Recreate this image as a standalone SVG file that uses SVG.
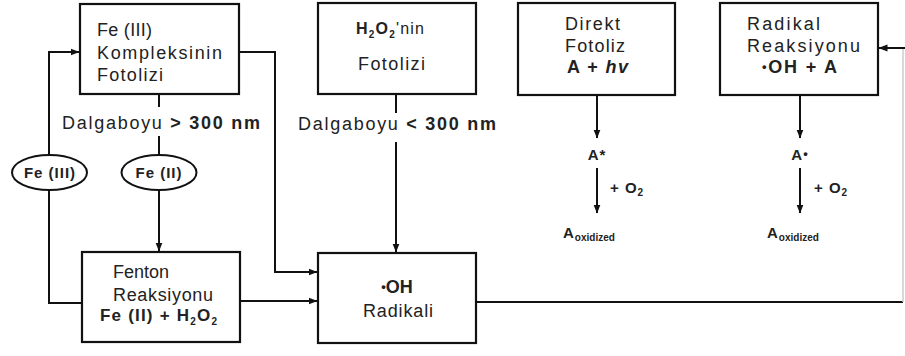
<svg xmlns="http://www.w3.org/2000/svg" width="905" height="356" viewBox="0 0 905 356">
<defs>
<marker id="ah" markerWidth="9" markerHeight="8" refX="8.5" refY="4" orient="auto" markerUnits="userSpaceOnUse"><path d="M0,0.5 L9,4 L0,7.5 z" fill="#111"/></marker>
</defs>
<style>
.box{fill:#fff;stroke:#111;stroke-width:2.2}
.ell{fill:#fff;stroke:#111;stroke-width:2}
.ln{fill:none;stroke:#111;stroke-width:2}
text{font-family:"Liberation Sans",Arial,sans-serif;fill:#222}
.t{font-size:18px}
.s{font-size:15px;font-weight:bold;letter-spacing:1px}
.b{font-weight:bold}
.sub{font-size:10px}
.m{text-anchor:middle}
.dot{font-size:13px}
</style>
<rect width="905" height="356" fill="#fff"/>
<g id="connectors">
<path class="ln" d="M159,94 V107"/>
<path class="ln" d="M159,136 V155"/>
<path class="ln" d="M159,190 V251" marker-end="url(#ah)"/>
<path class="ln" d="M49,155 V52 H79" marker-end="url(#ah)"/>
<path class="ln" d="M49,190 V303 H82"/>
<path class="ln" d="M239,52 H275 V272 H317" marker-end="url(#ah)"/>
<path class="ln" d="M240,301 H317" marker-end="url(#ah)"/>
<path class="ln" d="M396,94 V113"/>
<path class="ln" d="M396,142 V252" marker-end="url(#ah)"/>
<path class="ln" d="M476,302 H903"/>
<path fill="none" stroke="#ccc" stroke-width="1.5" d="M903,302 V48"/>
<path class="ln" d="M905,48 H879" marker-end="url(#ah)"/>
<path class="ln" d="M597,95 V138" marker-end="url(#ah)"/>
<path class="ln" d="M597,168 V213" marker-end="url(#ah)"/>
<path class="ln" d="M800,95 V138" marker-end="url(#ah)"/>
<path class="ln" d="M800,168 V213" marker-end="url(#ah)"/>
</g>
<g id="fe3-kompleks">
<rect class="box" x="80" y="4" width="159" height="90"/>
<text class="t" x="97" y="36" textLength="55" lengthAdjust="spacing">Fe (III)</text>
<text class="t" x="97" y="59" textLength="125" lengthAdjust="spacing">Kompleksinin</text>
<text class="t" x="97" y="81" textLength="66" lengthAdjust="spacing">Fotolizi</text>
</g>
<g id="label-gt300">
<text class="t" x="62" y="129" textLength="198" lengthAdjust="spacing">Dalgaboyu <tspan class="b">&gt; 300 nm</tspan></text>
</g>
<g id="h2o2-fotoliz">
<rect class="box" x="318" y="3" width="158" height="91"/>
<text x="356" y="34" font-size="16" class="b" letter-spacing="1.2">H<tspan class="sub" dy="4">2</tspan><tspan dy="-4">O</tspan><tspan class="sub" dy="4">2</tspan><tspan dy="-4" font-weight="normal">'nin</tspan></text>
<text class="t" x="358" y="70" textLength="67" lengthAdjust="spacing">Fotolizi</text>
</g>
<g id="label-lt300">
<text class="t" x="298" y="130" textLength="198" lengthAdjust="spacing">Dalgaboyu <tspan class="b">&lt; 300 nm</tspan></text>
</g>
<g id="direkt-fotoliz">
<rect class="box" x="518" y="3" width="157" height="92"/>
<text class="t" x="565" y="30" textLength="55" lengthAdjust="spacing">Direkt</text>
<text class="t" x="565" y="52" textLength="60" lengthAdjust="spacing">Fotoliz</text>
<text class="t b" x="567" y="73" font-size="17" textLength="61" lengthAdjust="spacing">A + <tspan font-style="italic">hv</tspan></text>
</g>
<g id="radikal-reaksiyonu">
<rect class="box" x="720" y="3" width="158" height="92"/>
<text class="t" x="747" y="30" textLength="73" lengthAdjust="spacing">Radikal</text>
<text class="t" x="747" y="52" textLength="113" lengthAdjust="spacing">Reaksiyonu</text>
<text class="t b" x="762" y="73" font-size="17" textLength="75" lengthAdjust="spacing"><tspan class="dot" dy="-2">•</tspan><tspan dy="2">OH + A</tspan></text>
</g>
<g id="a-star">
<text class="s m" x="597" y="160">A*</text>
<text class="s" x="610" y="193">+ O<tspan class="sub" dy="3">2</tspan></text>
<text class="s" x="563" y="238">A<tspan class="sub" font-size="9" dy="3" letter-spacing="0">oxidized</tspan></text>
</g>
<g id="a-radical">
<text class="s m" x="800" y="160">A<tspan class="dot" dy="-2">•</tspan></text>
<text class="s" x="814" y="193">+ O<tspan class="sub" dy="3">2</tspan></text>
<text class="s" x="767" y="238">A<tspan class="sub" font-size="9" dy="3" letter-spacing="0">oxidized</tspan></text>
</g>
<g id="fe3-ellipse">
<ellipse class="ell" cx="49.5" cy="172.5" rx="37.5" ry="17.5"/>
<text class="s m" x="50" y="178" letter-spacing="0.5">Fe (III)</text>
</g>
<g id="fe2-ellipse">
<ellipse class="ell" cx="159" cy="172.5" rx="37.5" ry="17.5"/>
<text class="s m" x="159" y="178" letter-spacing="0.5">Fe (II)</text>
</g>
<g id="fenton">
<rect class="box" x="82" y="252" width="158" height="90"/>
<text class="t" x="113" y="278" font-size="17" textLength="56" lengthAdjust="spacing">Fenton</text>
<text class="t" x="113" y="301" font-size="17" textLength="100" lengthAdjust="spacing">Reaksiyonu</text>
<text x="100" y="321" font-size="17" class="b" letter-spacing="1.2">Fe (II) + H<tspan class="sub" dy="4">2</tspan><tspan dy="-4">O</tspan><tspan class="sub" dy="4">2</tspan></text>
</g>
<g id="oh-radikali">
<rect class="box" x="318" y="253" width="158" height="90"/>
<text class="t b m" x="397" y="293" font-size="17"><tspan class="dot" dy="-2">•</tspan><tspan dy="2">OH</tspan></text>
<text class="t" x="363" y="317" textLength="70" lengthAdjust="spacing">Radikali</text>
</g>
</svg>
